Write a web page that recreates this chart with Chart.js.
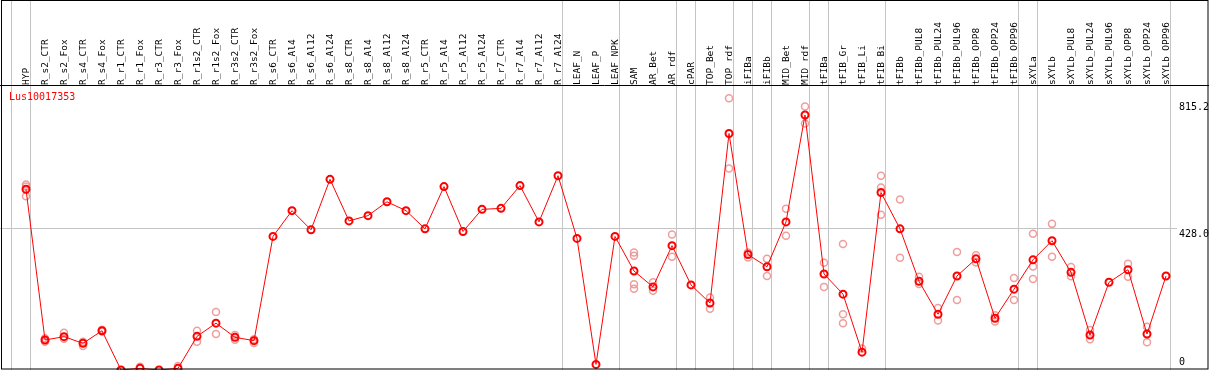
<!DOCTYPE html>
<html>
<head>
<meta charset="utf-8">
<title>Lus10017353</title>
<script src="https://cdn.jsdelivr.net/npm/chart.js@4.4.1/dist/chart.umd.min.js"></script>
<style>
	html, body { margin: 0; padding: 0; background: #fff; }
	canvas { display: block; }
</style>
</head>
<body>
<canvas id="graficoExpressao" width="1209" height="370"></canvas>
<script>
var titulo = 'Lus10017353';

var categorias = [
	'HYP', 'R_s2_CTR', 'R_s2_Fox', 'R_s4_CTR', 'R_s4_Fox', 'R_r1_CTR', 'R_r1_Fox', 'R_r3_CTR', 'R_r3_Fox',
	'R_r1s2_CTR', 'R_r1s2_Fox', 'R_r3s2_CTR', 'R_r3s2_Fox', 'R_s6_CTR', 'R_s6_Al4', 'R_s6_Al12', 'R_s6_Al24',
	'R_s8_CTR', 'R_s8_Al4', 'R_s8_Al12', 'R_s8_Al24', 'R_r5_CTR', 'R_r5_Al4', 'R_r5_Al12', 'R_r5_Al24',
	'R_r7_CTR', 'R_r7_Al4', 'R_r7_Al12', 'R_r7_Al24', 'LEAF_N', 'LEAF_P', 'LEAF_NPK', 'SAM', 'AR_Bet', 'AR_rdf',
	'cPAR', 'TOP_Bet', 'TOP_rdf', 'iFIBa', 'iFIBb', 'MID_Bet', 'MID_rdf', 'tFIBa', 'tFIB_Gr', 'tFIB_Li', 'tFIB_Bi',
	'tFIBb', 'tFIBb_PUL8', 'tFIBb_PUL24', 'tFIBb_PUL96', 'tFIBb_OPP8', 'tFIBb_OPP24', 'tFIBb_OPP96',
	'sXYLa', 'sXYLb', 'sXYLb_PUL8', 'sXYLb_PUL24', 'sXYLb_PUL96', 'sXYLb_OPP8', 'sXYLb_OPP24', 'sXYLb_OPP96'
];

// valor central de cada amostra (linha vermelha)
var medianas = [
	548, 91, 101, 81, 119, 0, 5, 0, 5, 102, 142, 99, 89, 405, 483, 425, 578,
	452, 468, 510, 483, 428, 556, 420, 487, 490, 559, 449, 589, 399, 17, 405,
	300, 252, 377, 258, 203, 717, 350, 313, 449, 773, 291, 230, 54, 538,
	428, 269, 169, 285, 337, 157, 245, 334, 392, 296, 106, 266, 304, 109, 285
];

// replicatas (circulos rosados), null quando nao aparece
var repA = [
	562, 96, 113, 73, 122, null, 10, null, 12, 119, 176, 106, 82, null, null, null, null,
	null, null, null, null, null, null, null, null, null, null, null, null, null, null, null,
	356, 266, 411, null, 220, 824, 356, 337, 489, 799, 325, 382, 65, 589,
	517, 283, 188, 358, 348, 166, 279, 413, 443, 312, 121, null, 322, 131, null
];
var repB = [
	556, 86, 95, 86, 117, null, null, null, null, 86, 109, 92, 93, null, null, null, null,
	null, null, null, null, null, null, null, null, null, null, null, null, null, null, null,
	346, 240, 343, null, 186, 611, 341, 285, 407, 747, 252, 169, null, 553,
	340, 261, 150, 212, 326, 147, 212, 314, 343, 284, 93, null, 283, 84, null
];
var repC = [
	527, null, null, null, null, null, null, null, null, null, null, null, null, null, null, null, null,
	null, null, null, null, null, null, null, null, null, null, null, null, null, null, null,
	260, null, null, null, null, null, null, null, null, null, null, 142, null, 471,
	null, null, null, null, null, null, null, 276, null, null, null, null, null, null, null
];
var repD = [
	null, null, null, null, null, null, null, null, null, null, null, null, null, null, null, null, null,
	null, null, null, null, null, null, null, null, null, null, null, null, null, null, null,
	246, null, null, null, null, null, null, null, null, null, null, null, null, null,
	null, null, null, null, null, null, null, null, null, null, null, null, null, null, null
];

var ticksY = [0, 428.0, 815.2];
var rotulosY = ['0', '428.0', '815.2'];

// linhas cinzas que separam os grupos (depois do indice)
var separadores = [-1, 0, 28, 31, 34, 35, 37, 38, 39, 41, 42, 45, 52, 53, 60];

var GraficoExpressao = (function() {

	function GraficoExpressao() {
		this.ctx = document.getElementById('graficoExpressao').getContext('2d');
	}

	GraficoExpressao.prototype.iniciar = function() {
		var pontos = medianas.map(function(v, i) {
			return { x: i, y: v };
		});

		var replicatas = [];
		[repA, repB, repC, repD].forEach(function(rep) {
			rep.forEach(function(v, i) {
				if (v !== null) replicatas.push({ x: i, y: v });
			});
		});

		var molduraPlugin = {
			id: 'moldura',
			beforeDatasetsDraw: function(chart) {
				var c = chart.ctx;
				var xs = chart.scales.x;
				c.save();
				c.strokeStyle = '#c4c4c4';
				c.lineWidth = 1;
				separadores.forEach(function(s) {
					var px = Math.round(xs.getPixelForValue(s + 0.22)) + 0.5;
					c.beginPath();
					c.moveTo(px, 0);
					c.lineTo(px, chart.chartArea.bottom);
					c.stroke();
				});
				c.restore();
			},
			afterDraw: function(chart) {
				var c = chart.ctx;
				var area = chart.chartArea;
				var ys = chart.scales.y;
				c.save();

				// titulo do gene
				c.fillStyle = '#ff0000';
				c.font = '10px "DejaVu Sans Mono"';
				c.textAlign = 'left';
				c.textBaseline = 'middle';
				c.fillText(titulo, 9, 97);

				// rotulos do eixo y
				c.fillStyle = '#000';
				c.textBaseline = 'top';
				ticksY.forEach(function(v, i) {
					var py = Math.min(ys.getPixelForValue(v) + 1, area.bottom - 13);
					c.fillText(rotulosY[i], area.right + 2, py);
				});

				// moldura preta
				c.strokeStyle = '#000';
				c.lineWidth = 1;
				c.beginPath();
				c.moveTo(0, area.top + 0.5);
				c.lineTo(chart.width, area.top + 0.5);
				c.stroke();
				c.strokeRect(1.5, 0.5, chart.width - 2.5, area.bottom - 1.5);
				c.restore();
			}
		};

		new Chart(this.ctx, {
			type: 'scatter',
			data: {
				datasets: [{
					label: titulo,
					data: pontos,
					showLine: true,
					borderColor: '#ff0000',
					borderWidth: 1,
					pointRadius: 3.5,
					pointBorderWidth: 2,
					pointBorderColor: '#ff0000',
					pointBackgroundColor: 'rgba(0,0,0,0)',
					order: 0
				}, {
					label: 'replicatas',
					data: replicatas,
					showLine: false,
					pointRadius: 3.5,
					pointBorderWidth: 1.5,
					pointBorderColor: 'rgba(236,140,140,0.85)',
					pointBackgroundColor: 'rgba(0,0,0,0)',
					order: 1
				}]
			},
			options: {
				responsive: false,
				animation: false,
				devicePixelRatio: 1,
				layout: { padding: 0, autoPadding: false },
				plugins: {
					legend: { display: false },
					title: { display: false },
					tooltip: { enabled: false }
				},
				scales: {
					x: {
						type: 'linear',
						position: 'top',
						min: -26 / 19,
						max: -26 / 19 + 1177 / 19,
						afterBuildTicks: function(scale) {
							scale.ticks = categorias.map(function(c, i) {
								return { value: i };
							});
						},
						afterFit: function(scale) {
							scale.height = 85;
							scale.paddingLeft = 0;
							scale.paddingRight = 0;
						},
						grid: { display: false, drawTicks: false },
						border: { display: false },
						ticks: {
							autoSkip: false,
							minRotation: 90,
							maxRotation: 90,
							padding: 0,
							labelOffset: 12,
							color: '#000',
							font: { family: 'DejaVu Sans Mono', size: 9.5 },
							callback: function(value) {
								return categorias[value];
							}
						}
					},
					y: {
						position: 'right',
						min: 0,
						max: 864,
						afterBuildTicks: function(scale) {
							scale.ticks = ticksY.map(function(v) {
								return { value: v };
							});
						},
						afterFit: function(scale) {
							scale.width = 32;
							scale.paddingTop = 0;
							scale.paddingBottom = 0;
						},
						grid: {
							drawTicks: false,
							color: function(ctx) {
								return ctx.tick && ctx.tick.value === 428 ? '#c4c4c4' : 'rgba(0,0,0,0)';
							}
						},
						border: { display: false },
						ticks: { display: false }
					}
				}
			},
			plugins: [molduraPlugin]
		});
	};

	return GraficoExpressao;

})();

var grafico = new GraficoExpressao();
grafico.iniciar();
</script>
</body>
</html>
